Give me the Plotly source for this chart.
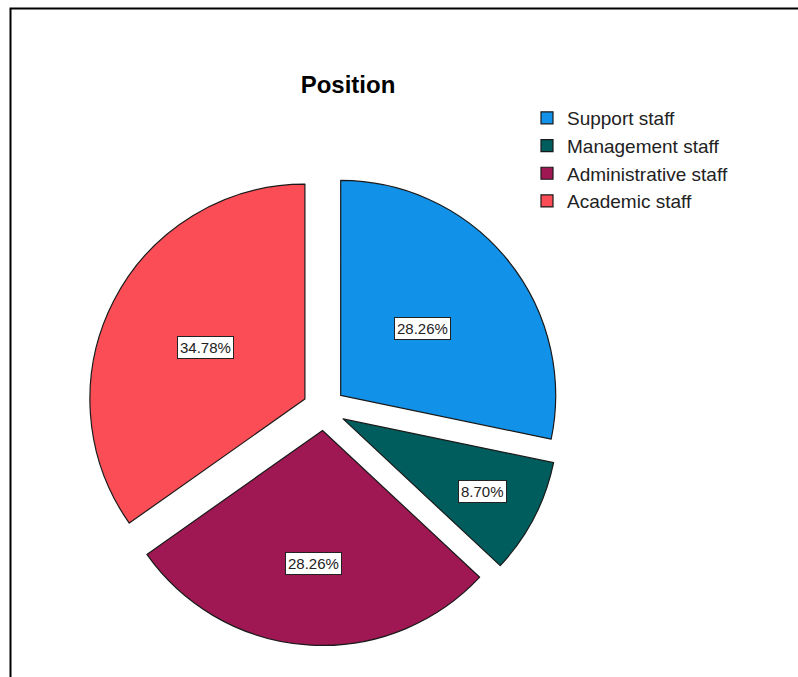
import math
import plotly.graph_objects as go

categories = ["Support staff", "Management staff", "Administrative staff", "Academic staff"]
counts = [13, 4, 13, 16]
colors = ["#1192e8", "#005d5d", "#9f1853", "#fa4d56"]
title_text = "Position"

W, H = 798, 677
pull = 0.1
FONT = "Liberation Sans, Arial, sans-serif"
# pie domain in paper coordinates
dom_x = [(324 - 236.5) / W, (324 + 236.5) / W]
dom_y = [(268 - 236.5) / H, (268 + 236.5) / H]
# radial position of each percentage label (fraction of radius, from pulled slice apex)
label_frac = [0.49, 0.73, 0.62, 0.52]

fig = go.Figure()
fig.add_trace(go.Pie(
    labels=categories,
    values=counts,
    sort=False,
    direction="clockwise",
    rotation=0,
    pull=[pull] * len(counts),
    marker=dict(colors=colors, line=dict(color="#1a1a1a", width=1.2)),
    textinfo="none",
    hoverinfo="label+percent",
    domain=dict(x=dom_x, y=dom_y),
))

# percentage labels placed from the data (slice angles)
box_w = (dom_x[1] - dom_x[0]) * W
box_h = (dom_y[1] - dom_y[0]) * H
r = min(box_w, box_h) / 2 / (1 + pull)
cxp = (dom_x[0] + dom_x[1]) / 2 * W
cyp = (dom_y[0] + dom_y[1]) / 2 * H
total = sum(counts)
cum = 0
for v, f in zip(counts, label_frac):
    mid = (cum + v / 2) / total * 2 * math.pi
    cum += v
    d = pull * r + f * r
    x = cxp + d * math.sin(mid)
    y = cyp + d * math.cos(mid)
    fig.add_annotation(
        x=x / W, y=y / H, xref="paper", yref="paper",
        xanchor="center", yanchor="middle",
        text=f"{100 * v / total:.2f}%", showarrow=False,
        font=dict(family=FONT, size=15, color="#222222"),
        bgcolor="white", bordercolor="#222222", borderwidth=1, borderpad=2,
    )

# outer frame
fig.add_shape(type="rect", xref="paper", yref="paper",
              x0=10.5 / W, x1=1.2, y0=-0.2, y1=1 - 8.5 / H,
              line=dict(color="black", width=2), fillcolor="rgba(0,0,0,0)")

fig.update_layout(
    width=W, height=H,
    margin=dict(l=0, r=0, t=0, b=0),
    paper_bgcolor="white", plot_bgcolor="white",
    title=dict(text=f"<b>{title_text}</b>", x=348 / W, xanchor="center",
               y=1 - 85 / H, yanchor="middle",
               font=dict(family=FONT, size=24, color="black")),
    legend=dict(x=527 / W, xanchor="left", y=1 - 99 / H, yanchor="top",
                font=dict(family=FONT, size=19, color="#222222"),
                tracegroupgap=0, itemclick=False, bgcolor="rgba(0,0,0,0)"),
    showlegend=True,
)

fig.write_html("out.html")
